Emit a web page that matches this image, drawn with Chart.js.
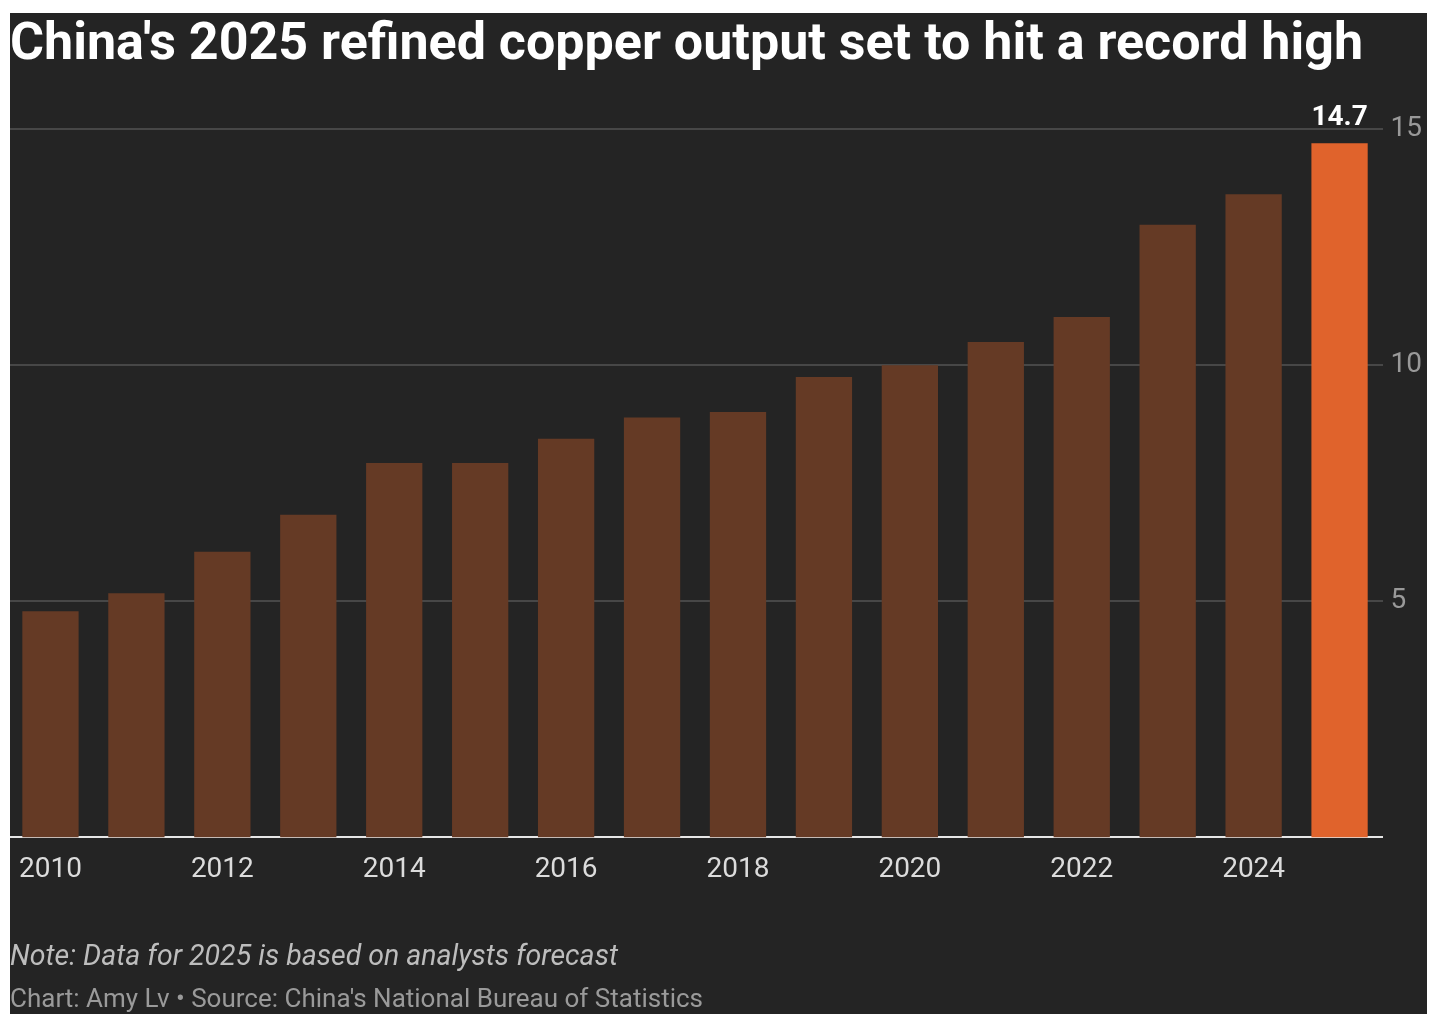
<!DOCTYPE html>
<html>
<head>
<meta charset="utf-8">
<script src="https://cdn.jsdelivr.net/npm/chart.js@4"></script>
<style>
  html, body { margin: 0; padding: 0; background: #fff; }
  #panel { position: absolute; left: 10px; top: 13px; width: 1417px; height: 1001px; background: #242424; overflow: hidden; }
  #chart { position: absolute; left: -10px; top: -13px; }
</style>
</head>
<body>
<div id="panel"><canvas id="chart" width="1442" height="1014"></canvas></div>
<script>
const years = ['2010', '2011', '2012', '2013', '2014', '2015', '2016', '2017',
               '2018', '2019', '2020', '2021', '2022', '2023', '2024', '2025'];
const output = [4.79, 5.17, 6.05, 6.83, 7.93, 7.93, 8.44, 8.89,
                9.01, 9.75, 10.0, 10.49, 11.02, 12.97, 13.62, 14.7];
const yTicks = [5, 10, 15];

const title = "China's 2025 refined copper output set to hit a record high";
const note = 'Note: Data for 2025 is based on analysts forecast';
const source = "Chart: Amy Lv \u2022 Source: China's National Bureau of Statistics";

const barColors = years.map(y => y === '2025' ? '#e0632c' : '#653a25');

Chart.defaults.font.family = 'Roboto';

// title, notes and the value label on the last bar
const textPlugin = {
    id: 'texts',
    afterDraw(chart) {
        const ctx = chart.ctx;
        ctx.save();
        ctx.textBaseline = 'alphabetic';
        ctx.textAlign = 'left';

        ctx.fillStyle = '#ffffff';
        ctx.font = 'bold 52px Roboto';
        ctx.fillText(title, 10, 59);

        ctx.fillStyle = '#bdbdbd';
        ctx.font = 'italic 28.5px Roboto';
        ctx.fillText(note, 10, 965);

        ctx.fillStyle = '#9a9a9a';
        ctx.font = '26px Roboto';
        ctx.fillText(source, 10, 1007);

        const meta = chart.getDatasetMeta(0);
        const last = meta.data[meta.data.length - 1];
        ctx.fillStyle = '#ffffff';
        ctx.font = 'bold 28px Roboto';
        ctx.textAlign = 'center';
        ctx.fillText(output[output.length - 1].toFixed(1), last.x, last.y - 18);
        ctx.restore();
    }
};

const ctx = document.getElementById('chart').getContext('2d');
const copperChart = new Chart(ctx, {
    type: 'bar',
    data: {
        labels: years,
        datasets: [{
            data: output,
            backgroundColor: barColors,
            borderWidth: 0,
            barPercentage: 0.655,
            categoryPercentage: 1
        }]
    },
    options: {
        responsive: false,
        animation: false,
        layout: {
            padding: { left: 7.5, right: 12, top: 129, bottom: 111 }
        },
        plugins: {
            legend: { display: false },
            tooltip: { enabled: false }
        },
        scales: {
            x: {
                grid: { display: false, drawTicks: false },
                border: { display: true, color: '#e6e6e6', width: 2 },
                ticks: {
                    color: '#dcdcdc',
                    font: { size: 28 },
                    padding: 16,
                    autoSkip: false,
                    maxRotation: 0,
                    callback: function(value, index) {
                        return index % 2 === 0 ? years[index] : '';
                    }
                }
            },
            y: {
                position: 'right',
                min: 0,
                max: 15,
                afterBuildTicks: function(scale) {
                    scale.ticks = yTicks.map(v => ({ value: v }));
                },
                grid: { color: '#474747', lineWidth: 2, drawTicks: false },
                border: { display: false },
                ticks: {
                    color: '#999999',
                    font: { size: 28 },
                    padding: 8
                }
            }
        }
    },
    plugins: [textPlugin]
});
</script>
</body>
</html>
